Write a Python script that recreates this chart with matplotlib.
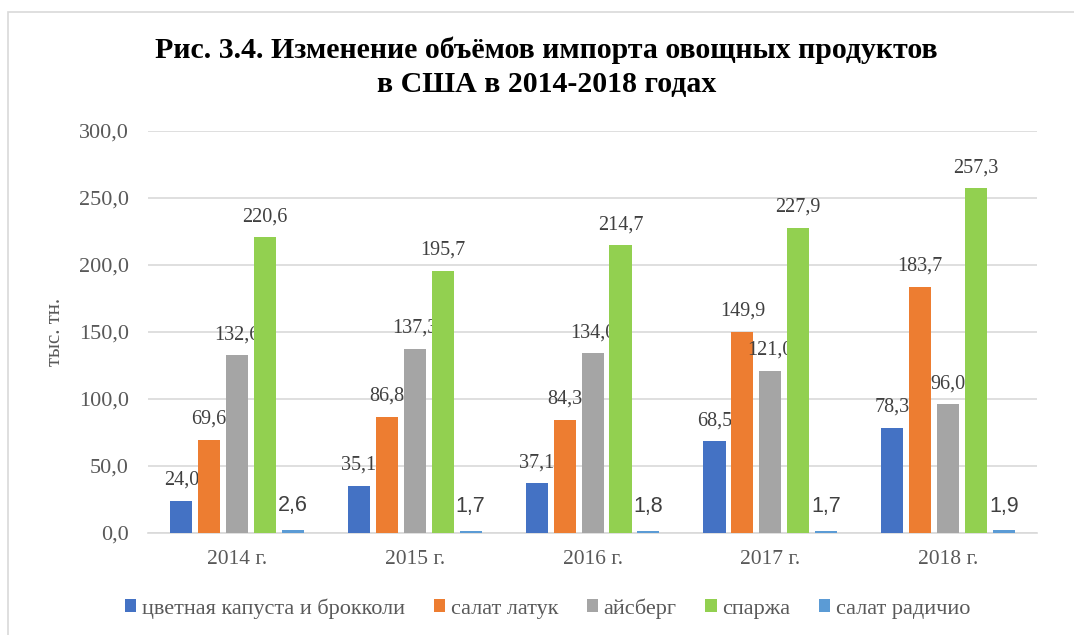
import numpy as np
import matplotlib.pyplot as plt
from matplotlib.patches import Rectangle

years = ['2014 г.', '2015 г.', '2016 г.', '2017 г.', '2018 г.']
series_names = ['цветная капуста и брокколи', 'салат латук', 'айсберг', 'спаржа', 'салат радичио']
cauliflower = [24.0, 35.1, 37.1, 68.5, 78.3]
lettuce = [69.6, 86.8, 84.3, 149.9, 183.7]
iceberg = [132.6, 137.3, 134.0, 121.0, 96.0]
asparagus = [220.6, 195.7, 214.7, 227.9, 257.3]
radicchio = [2.6, 1.7, 1.8, 1.7, 1.9]
colors = ['#4472C4', '#ED7D31', '#A5A5A5', '#92D050', '#5B9BD5']

serif = 'Liberation Serif'
sans = 'Liberation Sans'
txt = '#595959'

fig = plt.figure(figsize=(10.74, 6.35), dpi=100)
fig.patches.append(Rectangle((8 / 1074, -0.01), 1.0, 1 - 12 / 635 + 0.01,
                             transform=fig.transFigure, fill=False,
                             edgecolor='#d9d9d9', lw=1.2))
ax = fig.add_axes([0.138, 0.1606, 0.8275, 0.6331])

x = np.arange(len(years))
pitch = 0.157
width = 0.124
all_series = [cauliflower, lettuce, iceberg, asparagus, radicchio]
for i, (vals, name, c) in enumerate(zip(all_series, series_names, colors)):
    pos = x + (i - 2) * pitch
    bars = ax.bar(pos, vals, width, color=c, label=name, zorder=3)
    labels = [f'{v:.1f}'.replace('.', ',') for v in vals]
    if i == 4:
        ax.bar_label(bars, labels=labels, padding=10, fontsize=15.5,
                     family=sans, color='#404040')
    else:
        ax.bar_label(bars, labels=labels, padding=8, fontsize=14.5,
                     family=serif, color='#404040')

ax.set_xlim(-0.5, 4.5)
ax.set_ylim(0, 300)
ax.set_yticks(np.arange(0, 301, 50))
ax.set_yticklabels([f'{v:.1f}'.replace('.', ',') for v in np.arange(0, 301, 50)],
                   family=serif, fontsize=16, color=txt)
ax.set_xticks(x)
ax.set_xticklabels(years, family=serif, fontsize=15.5, color=txt)
ax.tick_params(length=0, pad=12)
ax.tick_params(axis='y', pad=14)
ax.grid(axis='y', color='#d9d9d9', lw=1.2, zorder=0)
for s in ['top', 'right', 'left']:
    ax.spines[s].set_visible(False)
ax.spines['bottom'].set_color('#d9d9d9')
ax.spines['bottom'].set_linewidth(1.2)

ax.set_ylabel('тыс. тн.', family=serif, fontsize=15, color=txt, labelpad=10)

fig.text(0.509, 0.894, 'Рис. 3.4. Изменение объёмов импорта овощных продуктов\nв США в 2014-2018 годах',
         ha='center', va='center', family=serif, fontsize=21.5, fontweight='bold',
         linespacing=1.3)

fig.legend(loc='center', bbox_to_anchor=(0.51, 0.042), ncol=5, frameon=False,
           prop={'family': serif, 'size': 16}, labelcolor=txt,
           handlelength=0.5, handleheight=0.5, handletextpad=0.25, columnspacing=1.3)

fig.savefig('out.png', dpi=100)
